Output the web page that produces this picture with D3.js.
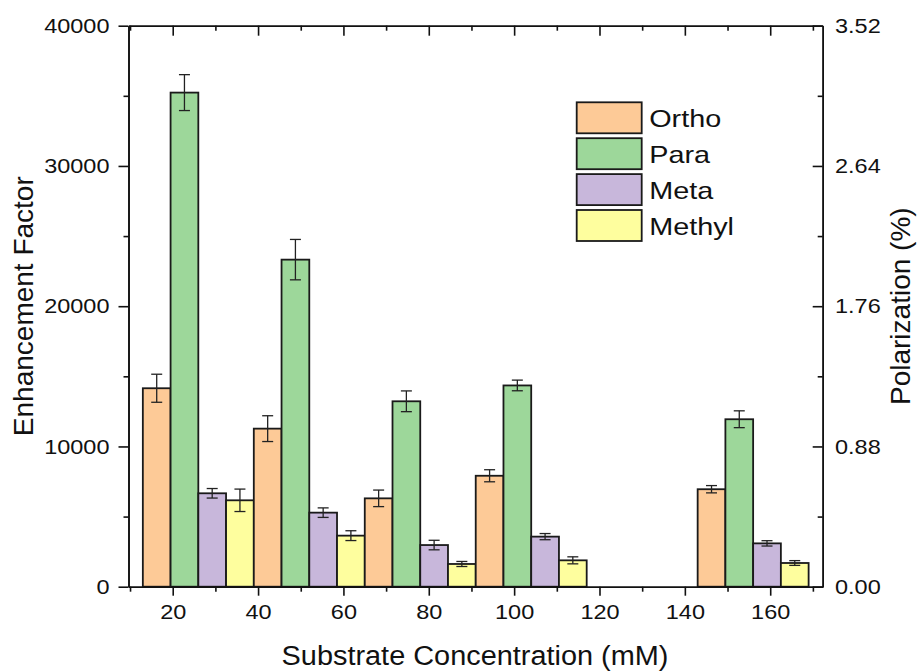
<!DOCTYPE html>
<html>
<head>
<meta charset="utf-8">
<script src="https://cdn.jsdelivr.net/npm/d3@7"></script>
<style>
  body { margin: 0; background: #fff; }
  text { font-family: "Liberation Sans", Arial, sans-serif; fill: #111; }
</style>
</head>
<body>
<svg id="chart" width="920" height="671"></svg>
<script>
// data
let concentrations = [26, 52, 78, 104, 156];
let seriesNames = ["Ortho", "Para", "Meta", "Methyl"];
let ortho     = [14150, 11270, 6300, 7910, 6950];
let orthoErr  = [1000, 920, 590, 430, 260];
let para      = [35230, 23320, 13220, 14350, 11940];
let paraErr   = [1280, 1440, 740, 380, 600];
let meta      = [6660, 5280, 2970, 3570, 3090];
let metaErr   = [340, 340, 340, 220, 190];
let methyl    = [6160, 3640, 1620, 1880, 1690];
let methylErr = [800, 350, 180, 250, 170];
let colors = ["#fdca97", "#9dd79a", "#c8b7db", "#fefe9e"];

let xMajor = [20, 40, 60, 80, 100, 120, 140, 160];
let xMinor = [10, 30, 50, 70, 90, 110, 130, 150, 170];
let yMajor = [0, 10000, 20000, 30000, 40000];
let yMinor = [5000, 15000, 25000, 35000];
let pMajor = [0, 0.88, 1.76, 2.64, 3.52];
let pMinor = [0.44, 1.32, 2.2, 3.08];

let values = [ortho, para, meta, methyl];
let errors = [orthoErr, paraErr, metaErr, methylErr];
let groupWidth = 26;

// plot frame
let frame = {left: 128.5, right: 822.7, top: 25.7, bottom: 586.7};

let x = d3.scaleLinear().domain([9.64, 172.3]).range([frame.left, frame.right]);
let y = d3.scaleLinear().domain([0, 40000]).range([frame.bottom, frame.top]);
let yPol = d3.scaleLinear().domain([0, 3.52]).range([frame.bottom, frame.top]);

let svg = d3.select("#chart");

// flatten into bars
let bars = [];
concentrations.forEach(function(c, i) {
  seriesNames.forEach(function(s, j) {
    let x0 = c - groupWidth / 2 + j * groupWidth / 4;
    bars.push({x0: x0, x1: x0 + groupWidth / 4, v: values[j][i], e: errors[j][i], color: colors[j]});
  });
});

svg.append("g").selectAll("rect")
  .data(bars)
  .enter().append("rect")
    .attr("x", d => x(d.x0))
    .attr("width", d => x(d.x1) - x(d.x0))
    .attr("y", d => y(d.v))
    .attr("height", d => y(0) - y(d.v))
    .attr("fill", d => d.color)
    .attr("stroke", "#1a1a1a")
    .attr("stroke-width", 1.8);

// error bars
let eb = svg.append("g").attr("stroke", "#222").attr("stroke-width", 1.3);
bars.forEach(function(d) {
  let cx = x((d.x0 + d.x1) / 2);
  eb.append("line").attr("x1", cx).attr("x2", cx).attr("y1", y(d.v + d.e)).attr("y2", y(d.v - d.e));
  eb.append("line").attr("x1", cx - 5.5).attr("x2", cx + 5.5).attr("y1", y(d.v + d.e)).attr("y2", y(d.v + d.e));
  eb.append("line").attr("x1", cx - 5.5).attr("x2", cx + 5.5).attr("y1", y(d.v - d.e)).attr("y2", y(d.v - d.e));
});

function styleAxis(g) {
  g.select(".domain").attr("stroke", "#111").attr("stroke-width", 1.6);
  g.selectAll(".tick line").attr("stroke", "#111").attr("stroke-width", 1.6);
  g.selectAll("text").style("font-size", "21px").attr("fill", "#111")
    .style("font-family", '"Liberation Sans", Arial, sans-serif');
}

let sx = 1.12;

// bottom axis
svg.append("g").attr("transform", "translate(0," + frame.bottom + ")")
  .call(d3.axisBottom(x).tickValues(xMinor).tickSize(5).tickSizeOuter(0).tickFormat(""))
  .call(styleAxis);
svg.append("g").attr("transform", "translate(0," + frame.bottom + ")")
  .call(d3.axisBottom(x).tickValues(xMajor).tickSize(9).tickSizeOuter(0).tickPadding(8))
  .call(styleAxis)
  .selectAll("text").attr("transform", "scale(" + sx + ",1)").attr("x", 0);

// top axis, ticks inward
svg.append("g").attr("transform", "translate(0," + frame.top + ")")
  .call(d3.axisTop(x).tickValues(xMinor).tickSize(-5).tickSizeOuter(0).tickFormat(""))
  .call(styleAxis);
svg.append("g").attr("transform", "translate(0," + frame.top + ")")
  .call(d3.axisTop(x).tickValues(xMajor).tickSize(-10).tickSizeOuter(0).tickFormat(""))
  .call(styleAxis);

// left axis
svg.append("g").attr("transform", "translate(" + frame.left + ",0)")
  .call(d3.axisLeft(y).tickValues(yMinor).tickSize(5).tickSizeOuter(0).tickFormat(""))
  .call(styleAxis);
svg.append("g").attr("transform", "translate(" + frame.left + ",0)")
  .call(d3.axisLeft(y).tickValues(yMajor).tickSize(10).tickSizeOuter(0).tickFormat(d3.format("d")))
  .call(styleAxis)
  .selectAll("text").attr("transform", "scale(" + sx + ",1)").attr("x", -19 / sx);

// right axis, ticks inward
svg.append("g").attr("transform", "translate(" + frame.right + ",0)")
  .call(d3.axisRight(yPol).tickValues(pMinor).tickSize(-5).tickSizeOuter(0).tickFormat(""))
  .call(styleAxis);
svg.append("g").attr("transform", "translate(" + frame.right + ",0)")
  .call(d3.axisRight(yPol).tickValues(pMajor).tickSize(-10).tickSizeOuter(0).tickFormat(d3.format(".2f")))
  .call(styleAxis)
  .selectAll("text").attr("transform", "scale(" + sx + ",1)").attr("x", 12.3 / sx);

// axis titles
svg.append("text")
  .attr("transform", "translate(475,665) scale(1.07,1)")
  .attr("text-anchor", "middle")
  .style("font-size", "27px")
  .text("Substrate Concentration (mM)");

svg.append("text")
  .attr("transform", "translate(33," + (frame.top + frame.bottom) / 2 + ") rotate(-90)")
  .attr("text-anchor", "middle")
  .style("font-size", "28px")
  .text("Enhancement Factor");

svg.append("text")
  .attr("transform", "translate(910," + (frame.top + frame.bottom) / 2 + ") rotate(-90)")
  .attr("text-anchor", "middle")
  .style("font-size", "28px")
  .text("Polarization (%)");

// legend
let legend = svg.append("g").attr("transform", "translate(576.7,102.3)");
seriesNames.forEach(function(s, j) {
  let row = legend.append("g").attr("transform", "translate(0," + j * 35.9 + ")");
  row.append("rect")
    .attr("width", 65).attr("height", 31)
    .attr("fill", colors[j]).attr("stroke", "#1a1a1a").attr("stroke-width", 1.8);
  row.append("text")
    .attr("transform", "translate(72.5,25) scale(1.2,1)")
    .style("font-size", "24px")
    .text(s);
});
</script>
</body>
</html>
